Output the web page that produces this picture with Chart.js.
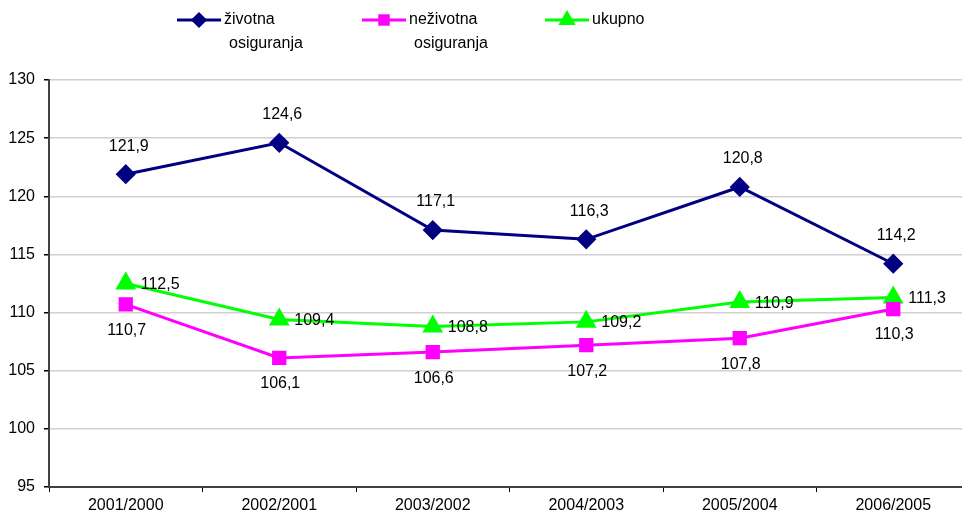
<!DOCTYPE html>
<html>
<head>
<meta charset="utf-8">
<script src="https://cdn.jsdelivr.net/npm/chart.js@4.4.1/dist/chart.umd.min.js"></script>
<style>
  html, body { margin: 0; padding: 0; background: #fff; overflow: hidden; }
  #wrap { width: 982px; height: 517px; }
</style>
</head>
<body>
<div id="wrap"><canvas id="chart" width="982" height="517"></canvas></div>
<script>
const categories = ['2001/2000', '2002/2001', '2003/2002', '2004/2003', '2005/2004', '2006/2005'];
const zivotna = [121.9, 124.6, 117.1, 116.3, 120.8, 114.2];
const nezivotna = [110.7, 106.1, 106.6, 107.2, 107.8, 110.3];
const ukupno = [112.5, 109.4, 108.8, 109.2, 110.9, 111.3];
const yTicks = [95, 100, 105, 110, 115, 120, 125, 130];

const fontFamily = '"Liberation Sans", Arial, sans-serif';
const navy = '#000080';
const magenta = '#ff00ff';
const green = '#00ff00';

// value labels next to each point
const valueLabels = {
    id: 'valueLabels',
    afterDatasetsDraw(chart) {
        const ctx = chart.ctx;
        ctx.save();
        ctx.font = '16px ' + fontFamily;
        ctx.fillStyle = '#000';
        chart.data.datasets.forEach((ds, i) => {
            const meta = chart.getDatasetMeta(i);
            meta.data.forEach((pt, j) => {
                const txt = ds.data[j].toFixed(1).replace('.', ',');
                ctx.textBaseline = 'middle';
                if (ds.labelPos === 'above') {
                    ctx.textAlign = 'center';
                    ctx.fillText(txt, pt.x + 3, pt.y - 28);
                } else if (ds.labelPos === 'below') {
                    ctx.textAlign = 'center';
                    ctx.fillText(txt, pt.x + 1, pt.y + 26);
                } else {
                    ctx.textAlign = 'left';
                    ctx.fillText(txt, pt.x + 15, pt.y + 1);
                }
            });
        });
        ctx.restore();
    }
};

// legend with two-line labels, drawn at the top
const topLegend = {
    id: 'topLegend',
    afterDraw(chart) {
        const ctx = chart.ctx;
        const items = [
            { ds: 0, x: 177, r: 6, lines: ['životna', 'osiguranja'] },
            { ds: 1, x: 362, r: 6, lines: ['neživotna', 'osiguranja'] },
            { ds: 2, x: 545, r: 7, lines: ['ukupno'] }
        ];
        ctx.save();
        items.forEach(it => {
            const ds = chart.data.datasets[it.ds];
            const y = 20;
            ctx.strokeStyle = ds.borderColor;
            ctx.lineWidth = 3;
            ctx.beginPath();
            ctx.moveTo(it.x, y);
            ctx.lineTo(it.x + 44, y);
            ctx.stroke();
            ctx.fillStyle = ds.backgroundColor;
            ctx.strokeStyle = ds.borderColor;
            Chart.helpers.drawPoint(ctx, {
                pointStyle: ds.pointStyle,
                radius: it.r,
                borderWidth: 1
            }, it.x + 22, y);
            ctx.fillStyle = '#000';
            ctx.font = '16px ' + fontFamily;
            ctx.textAlign = 'left';
            ctx.textBaseline = 'middle';
            ctx.fillText(it.lines[0], it.x + 47, y);
            if (it.lines[1]) ctx.fillText(it.lines[1], it.x + 52, y + 24);
        });
        ctx.restore();
    }
};

new Chart(document.getElementById('chart'), {
    type: 'line',
    data: {
        labels: categories,
        datasets: [
            {
                label: 'životna osiguranja',
                data: zivotna,
                borderColor: navy,
                backgroundColor: navy,
                borderWidth: 3,
                pointStyle: 'rectRot',
                pointRadius: 8,
                labelPos: 'above'
            },
            {
                label: 'neživotna osiguranja',
                data: nezivotna,
                borderColor: magenta,
                backgroundColor: magenta,
                borderWidth: 3,
                pointStyle: 'rect',
                pointRadius: 8,
                labelPos: 'below'
            },
            {
                label: 'ukupno',
                data: ukupno,
                borderColor: green,
                backgroundColor: green,
                borderWidth: 3,
                pointStyle: 'triangle',
                pointRadius: 9,
                labelPos: 'right'
            }
        ]
    },
    options: {
        responsive: false,
        animation: false,
        clip: false,
        tension: 0,
        layout: { padding: { top: 80, left: 0, right: 0, bottom: 0 } },
        plugins: {
            legend: { display: false },
            tooltip: { enabled: false }
        },
        scales: {
            x: {
                offset: true,
                afterFit(scale) { scale.height = 30; },
                grid: {
                    offset: true,
                    drawOnChartArea: false,
                    drawTicks: true,
                    tickLength: 5,
                    tickColor: '#000'
                },
                border: { color: '#404040', width: 2 },
                ticks: {
                    color: '#000',
                    padding: 4,
                    font: { family: fontFamily, size: 16 }
                }
            },
            y: {
                min: 95,
                max: 130,
                afterFit(scale) { scale.width = 49; },
                afterBuildTicks(scale) { scale.ticks = yTicks.map(v => ({ value: v })); },
                grid: {
                    color: '#d0d0d0',
                    lineWidth: 1.5,
                    drawTicks: true,
                    tickLength: 5,
                    tickColor: '#000'
                },
                border: { color: '#404040', width: 2 },
                ticks: {
                    color: '#000',
                    padding: 9,
                    font: { family: fontFamily, size: 16 }
                }
            }
        }
    },
    plugins: [valueLabels, topLegend]
});
</script>
</body>
</html>
